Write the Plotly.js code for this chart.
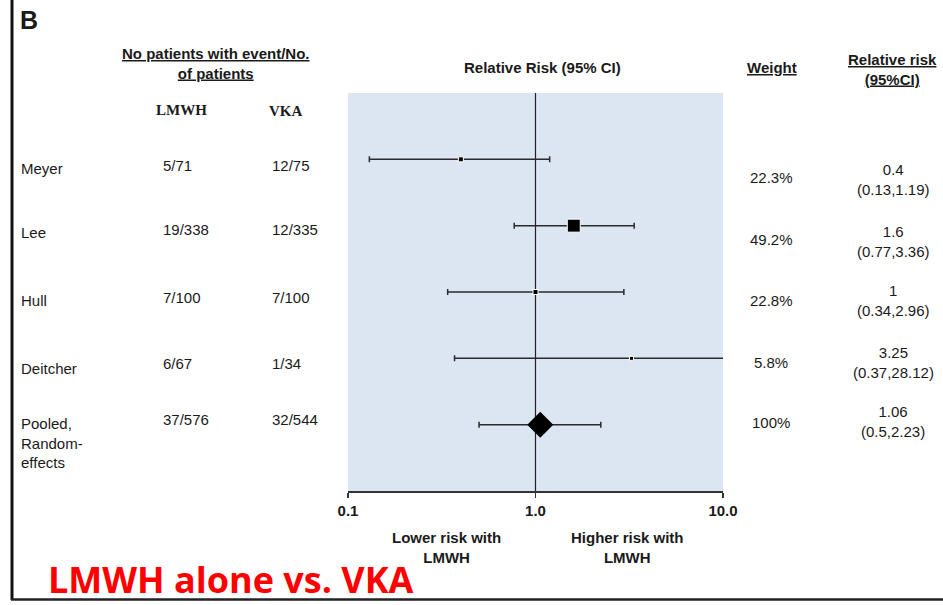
<!DOCTYPE html>
<html>
<head>
<meta charset="utf-8">
<script src="https://cdn.plot.ly/plotly-3.0.1.min.js"></script>
<style>html,body{margin:0;padding:0;background:#fff;}#chart{width:943px;height:605px;}</style>
</head>
<body>
<div id="chart"></div>
<script>
// ---------- data ----------
const studies = ['Meyer', 'Lee', 'Hull', 'Deitcher', 'Pooled,<br>Random-<br>effects'];
const lmwhEvents = [5, 19, 7, 6, 37];
const lmwhTotal = [71, 338, 100, 67, 576];
const vkaEvents = [12, 12, 7, 1, 32];
const vkaTotal = [75, 335, 100, 34, 544];
const rr = [0.4, 1.6, 1, 3.25, 1.06];
const rrLow = [0.13, 0.77, 0.34, 0.37, 0.5];
const rrHigh = [1.19, 3.36, 2.96, 28.12, 2.23];
const weightPct = [22.3, 49.2, 22.8, 5.8, 100];
const tickVals = [0.1, 1, 10];
const tickText = ['0.1', '1.0', '10.0'];

// ---------- styling / positions (not data) ----------
const markerSizes = [5, 13, 5, 4];
const FONT = 'Liberation Sans, Arial, sans-serif';
const INK = '#1a1a1a';
const L = 348, R = 723, T = 93, B = 491;
const px2x = px => (px - L) / (R - L);
const px2y = py => (B - py) / (B - T);
// vertical text offsets (px, downward) relative to each row
const nameDy = [8.7, 7.3, 8, 9.7, 18.3];
const countDy = [5.7, 4.3, 5, 4.7, -4.7];
const weightDy = [17.7, 14.3, 8, 3.7, -1.7];
const rrDy = [19.7, 16.3, 8, 3.7, -2.7];

const rows = studies.map((_, i) => i + 1);
const nStudy = 4;

const studyTrace = {
  type: 'scatter', mode: 'markers',
  x: rr.slice(0, nStudy), y: rows.slice(0, nStudy),
  marker: {symbol: 'square', size: markerSizes, color: '#000', opacity: 1},
  error_x: {
    type: 'data', symmetric: false,
    array: rr.slice(0, nStudy).map((v, i) => rrHigh[i] - v),
    arrayminus: rr.slice(0, nStudy).map((v, i) => v - rrLow[i]),
    color: '#2a2a2a', thickness: 1.5, width: 3
  },
  hoverinfo: 'skip', showlegend: false
};
const pooledTrace = {
  type: 'scatter', mode: 'markers',
  x: [rr[4]], y: [rows[4]],
  marker: {symbol: 'diamond', size: 20, color: '#000', opacity: 1},
  error_x: {
    type: 'data', symmetric: false,
    array: [rrHigh[4] - rr[4]], arrayminus: [rr[4] - rrLow[4]],
    color: '#2a2a2a', thickness: 1.5, width: 3
  },
  hoverinfo: 'skip', showlegend: false
};

const ann = [];
function txt(o) {
  ann.push(Object.assign({showarrow: false, xref: 'paper', yref: 'paper',
    xanchor: 'center', yanchor: 'middle', align: 'center',
    font: {family: FONT, size: 15, color: INK}}, o));
}
const boldFont = {family: FONT, size: 15, color: INK, weight: 'bold'};
const serifBold = {family: 'Liberation Serif, Times New Roman, serif', size: 15, color: INK, weight: 'bold'};
// headers
txt({text: 'B', x: px2x(29), y: px2y(20), font: {family: FONT, size: 25, color: INK, weight: 'bold'}});
txt({text: '<u>No patients with event/No.</u><br><u>of patients</u>', x: px2x(216), y: px2y(64), font: boldFont});
txt({text: 'LMWH', x: px2x(181), y: px2y(110), font: serifBold});
txt({text: 'VKA', x: px2x(286), y: px2y(111), font: serifBold});
txt({text: 'Relative Risk (95% CI)', x: px2x(542), y: px2y(67), font: boldFont});
txt({text: '<u>Weight</u>', x: px2x(772), y: px2y(67), font: boldFont});
txt({text: '<u>Relative risk</u><br><u>(95%CI)</u>', x: px2x(892), y: px2y(70), font: boldFont});
// bottom labels
txt({text: 'Lower risk with<br>LMWH', x: px2x(446), y: px2y(547), font: boldFont});
txt({text: 'Higher risk with<br>LMWH', x: px2x(627), y: px2y(547), font: boldFont});
txt({text: 'LMWH alone vs. VKA', x: px2x(231), y: px2y(579), font: {family: 'Open Sans, sans-serif', size: 36, color: '#ff0000', weight: 'bold'}});

// row texts
rows.forEach((r, i) => {
  const base = {yref: 'y', y: r};
  txt(Object.assign({}, base, {text: studies[i], x: px2x(19), xanchor: 'left', align: 'left', yshift: -nameDy[i]}));
  txt(Object.assign({}, base, {text: lmwhEvents[i] + '/' + lmwhTotal[i], x: px2x(161), xanchor: 'left', yshift: -countDy[i]}));
  txt(Object.assign({}, base, {text: vkaEvents[i] + '/' + vkaTotal[i], x: px2x(270), xanchor: 'left', yshift: -countDy[i]}));
  txt(Object.assign({}, base, {text: weightPct[i] + '%', x: px2x(771), yshift: -weightDy[i]}));
  txt(Object.assign({}, base, {text: rr[i] + '<br>(' + rrLow[i] + ',' + rrHigh[i] + ')', x: px2x(893), yshift: -rrDy[i]}));
});

const layout = {
  width: 943, height: 605,
  margin: {l: L, r: 943 - R, t: T, b: 605 - B, pad: 0},
  paper_bgcolor: '#ffffff', plot_bgcolor: '#dce6f2',
  showlegend: false,
  xaxis: {
    type: 'log', range: [-1, 1], tickvals: tickVals, ticktext: tickText,
    showline: true, linecolor: '#333', linewidth: 1.5, mirror: false,
    ticks: 'outside', ticklen: 5, tickwidth: 1.5, tickcolor: '#333',
    showgrid: false, zeroline: false, fixedrange: true,
    tickfont: {family: FONT, size: 15, color: INK, weight: 'bold'}
  },
  yaxis: {range: [6, 0], visible: false, fixedrange: true, showgrid: false, zeroline: false},
  shapes: [
    {type: 'line', xref: 'x', yref: 'paper', x0: 1, x1: 1, y0: 0, y1: 1, layer: 'below', line: {color: '#222', width: 1.2}},
    {type: 'line', xref: 'paper', yref: 'paper', x0: px2x(12), x1: px2x(12), y0: px2y(0), y1: px2y(600), line: {color: '#111', width: 3}},
    {type: 'line', xref: 'paper', yref: 'paper', x0: px2x(11), x1: px2x(943), y0: px2y(599.5), y1: px2y(599.5), line: {color: '#222', width: 2.5}}
  ],
  annotations: ann
};

Plotly.newPlot('chart', [studyTrace, pooledTrace], layout, {displayModeBar: false, staticPlot: true});
</script>
</body>
</html>
